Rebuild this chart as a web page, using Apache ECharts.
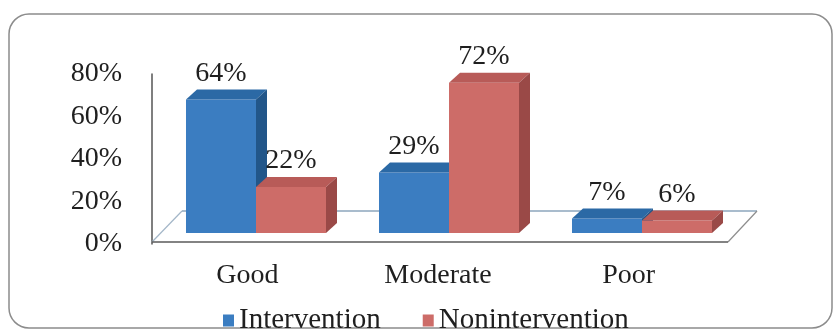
<!DOCTYPE html>
<html>
<head>
<meta charset="utf-8">
<script src="https://cdn.jsdelivr.net/npm/echarts@6/dist/echarts.min.js"></script>
<style>
  html, body { margin: 0; padding: 0; background: #ffffff; }
  #chart { width: 834px; height: 329px; }
</style>
</head>
<body>
<div id="chart"></div>
<script>
// Categories, series values and axis ticks
const categories = ['Good', 'Moderate', 'Poor'];
const intervention = [64, 29, 7];
const nonintervention = [22, 72, 6];
const yTicks = [0, 20, 40, 60, 80];

const FONT = '"Liberation Serif", "Times New Roman", serif';
const TEXT = '#1f1f1f';

// Oblique depth of every box
const DX = 11, DY = 10;

const palette = {
  Intervention:    { front: '#3b7dc1', top: '#2b69a5', side: '#225689' },
  Nonintervention: { front: '#cd6c68', top: '#b85b58', side: '#9a4947' }
};

// Pseudo-3D box: front face, top face, right side face and value label
function boxRenderer(seriesName, side) {
  const c = palette[seriesName];
  return function (params, api) {
    const idx = api.value(0);
    const val = api.value(1);
    const top = api.coord([idx, val]);
    const base = api.coord([idx, 0]);
    const band = api.size([1, 0])[0];
    const w = band * 0.3627;
    const x0 = side < 0 ? top[0] - w : top[0];
    const x1 = x0 + w;
    const yT = top[1], yB = base[1];
    return {
      type: 'group',
      children: [
        { type: 'rect', shape: { x: x0, y: yT, width: w, height: yB - yT },
          style: { fill: c.front } },
        { type: 'polygon', shape: { points: [[x0, yT], [x0 + DX, yT - DY], [x1 + DX, yT - DY], [x1, yT]] },
          style: { fill: c.top } },
        { type: 'polygon', shape: { points: [[x1, yT], [x1 + DX, yT - DY], [x1 + DX, yB - DY], [x1, yB]] },
          style: { fill: c.side } },
        { type: 'text', z2: 10,
          style: { text: val + '%', x: (x0 + x1) / 2, y: yT - 26, align: 'center', verticalAlign: 'middle',
                   fontSize: 28, fontFamily: FONT, fill: TEXT } }
      ]
    };
  };
}

// Floor of the plot, laid out from the category axis ends
function floorRenderer(params, api) {
  const band = api.size([1, 0])[0];
  const first = api.coord([0, 0]);
  const last = api.coord([categories.length - 1, 0]);
  const left = first[0] - band / 2, right = last[0] + band / 2;
  const y0 = first[1];
  const fl = [left - 7.5, y0 + 9], fr = [right - 10.5, y0 + 9];
  const bl = [left + 22.5, y0 - 22], br = [right + 18.5, y0 - 22];
  return {
    type: 'group',
    children: [
      { type: 'polygon', shape: { points: [fl, bl, br, fr] }, style: { fill: '#ffffff' } },
      { type: 'line', shape: { x1: bl[0], y1: bl[1], x2: br[0], y2: br[1] }, style: { stroke: '#a9bccd', lineWidth: 1.8 } },
      { type: 'line', shape: { x1: fl[0], y1: fl[1], x2: bl[0], y2: bl[1] }, style: { stroke: '#a3b6c8', lineWidth: 1.2 } },
      { type: 'line', shape: { x1: fr[0], y1: fr[1], x2: br[0], y2: br[1] }, style: { stroke: '#8d8d8d', lineWidth: 1.2 } },
      { type: 'line', shape: { x1: fl[0], y1: fl[1], x2: fr[0], y2: fr[1] }, style: { stroke: '#5a5a5a', lineWidth: 1.6 } }
    ]
  };
}

const chart = echarts.init(document.getElementById('chart'), null, { renderer: 'canvas' });

chart.setOption({
  backgroundColor: '#ffffff',
  animation: false,
  textStyle: { fontFamily: FONT, color: TEXT },
  graphic: [{
    type: 'rect', silent: true, z: -10,
    shape: { x: 9, y: 14, width: 823, height: 314, r: 20 },
    style: { fill: 'none', stroke: '#8c8c8c', lineWidth: 1.5 }
  }],
  legend: {
    data: ['Intervention', 'Nonintervention'],
    icon: 'rect', itemWidth: 11, itemHeight: 12, itemGap: 42,
    left: 218, top: 301,
    textStyle: { fontSize: 29, fontFamily: FONT, color: TEXT }
  },
  grid: [
    { left: 152, top: 74, width: 572, height: 170 },
    { left: 159.5, top: 66, width: 579, height: 167 }
  ],
  xAxis: [
    { type: 'category', gridIndex: 0, data: categories,
      axisLine: { show: false }, axisTick: { show: false },
      axisLabel: { margin: 18, fontSize: 28, fontFamily: FONT, color: TEXT } },
    { type: 'category', gridIndex: 1, data: categories, show: false }
  ],
  yAxis: [
    { type: 'value', gridIndex: 0, min: yTicks[0], max: yTicks[yTicks.length - 1], interval: yTicks[1] - yTicks[0],
      axisLine: { show: true, lineStyle: { color: '#555555', width: 1.5 } },
      axisTick: { show: false }, splitLine: { show: false },
      axisLabel: { margin: 30, fontSize: 28, fontFamily: FONT, color: TEXT, formatter: '{value}%' } },
    { type: 'value', gridIndex: 1, min: yTicks[0], max: yTicks[yTicks.length - 1], show: false }
  ],
  series: [
    { type: 'custom', name: 'floor', xAxisIndex: 1, yAxisIndex: 1, z: 1, silent: true,
      renderItem: floorRenderer, data: [[0, 0]] },
    { type: 'custom', name: 'Intervention', xAxisIndex: 1, yAxisIndex: 1, z: 2,
      itemStyle: { color: palette.Intervention.front },
      renderItem: boxRenderer('Intervention', -1),
      data: intervention.map((v, i) => [i, v]) },
    { type: 'custom', name: 'Nonintervention', xAxisIndex: 1, yAxisIndex: 1, z: 2,
      itemStyle: { color: palette.Nonintervention.front },
      renderItem: boxRenderer('Nonintervention', 1),
      data: nonintervention.map((v, i) => [i, v]) }
  ]
});
</script>
</body>
</html>
